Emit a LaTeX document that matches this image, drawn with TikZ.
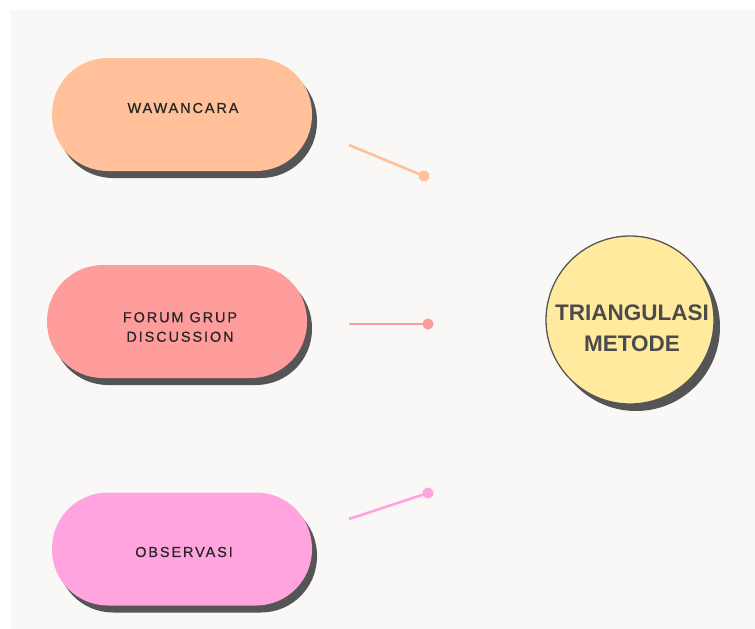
\documentclass[tikz,border=0pt]{standalone}
\usepackage{fontspec}
\setmainfont{Liberation Sans}
\usetikzlibrary{shadows,arrows.meta}
\definecolor{bgcol}{HTML}{FAF8F6}
\definecolor{peach}{HTML}{FFC09A}
\definecolor{salmon}{HTML}{FF9C9C}
\definecolor{pinky}{HTML}{FFA4DE}
\definecolor{lemon}{HTML}{FFEA9E}
\definecolor{shade}{HTML}{555555}
\definecolor{ink}{HTML}{4B4B4B}
\tikzset{
  pill/.style={rounded corners=56pt, minimum width=260pt, minimum height=113pt,
    drop shadow={shadow xshift=5pt, shadow yshift=-7pt, opacity=1, fill=shade}},
  pilltext/.style={align=center, text=black!85,
    font=\fontsize{14.5}{19.5}\selectfont\addfontfeatures{LetterSpace=13,FakeBold=0.6}},
  link/.style={line width=2.6pt, -{Circle[length=11pt]}, shorten >=-5.5pt}
}

\begin{document}
\begin{tikzpicture}[x=1pt,y=-1pt]
			%%%%% START %%%%%
			\useasboundingbox (0,0) rectangle (755,629);
			\fill[bgcol] (11,10) rectangle (755,629);
			
			\node[pill, fill=peach] (wawancara) at (182,114.5) {};
			\node[pill, fill=salmon] (fgd) at (177,321.5) {};
			\node[pill, fill=pinky] (observasi) at (182,549) {};
			\node[pilltext] (wawancaratext) at (183,108) {WAWANCARA};
			\node[pilltext] (fgdtext) at (180,327) {FORUM GRUP\\DISCUSSION};
			\node[pilltext] (observasitext) at (184,552) {OBSERVASI};
			
			\node[circle, minimum size=168pt, fill=lemon, draw=shade, line width=1.3pt,
			  drop shadow={shadow xshift=6pt, shadow yshift=-7pt, opacity=1, fill=shade}]
			  (triangulasi) at (630,320) {};
			\node[align=center, text=ink, font=\fontsize{22.5}{31}\selectfont\bfseries]
			  (triangulasitext) at (632,328) {TRIANGULASI\\METODE};
			
			\coordinate (w1) at (349,145);
			\coordinate (w2) at (424,176);
			\coordinate (f1) at (349,324);
			\coordinate (f2) at (428,324);
			\coordinate (o1) at (349,519);
			\coordinate (o2) at (428,493);
			
			\draw[link, peach] (w1) -- (w2);
			\draw[link, salmon] (f1) -- (f2);
			\draw[link, pinky] (o1) -- (o2);
			%%%%% END %%%%%
\end{tikzpicture}
\end{document}
